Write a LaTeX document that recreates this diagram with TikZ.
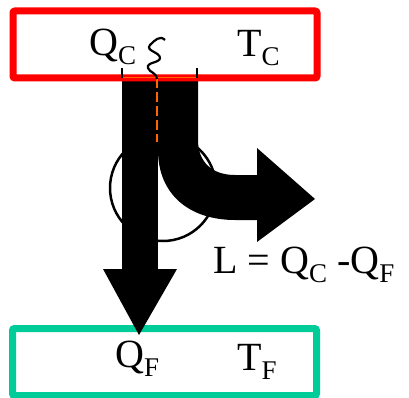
\documentclass[tikz,border=0pt]{standalone}
\usepackage{fontspec}
\setmainfont{Liberation Serif}
\definecolor{hotred}{RGB}{255,0,0}
\definecolor{coldgreen}{RGB}{0,204,153}
\definecolor{flow}{RGB}{255,102,0}
\newcommand{\lowidx}[1]{\raisebox{-9pt}{\fontsize{27}{27}\selectfont #1}}

\begin{document}
\begin{tikzpicture}[x=1pt,y=-1pt]
  \useasboundingbox (0,0) rectangle (409,398);
  \tikzset{reservoir/.style={draw, line width=7pt, rounded corners=2pt,
      minimum width=304pt, minimum height=67pt},
    label/.style={anchor=base west, inner sep=0pt, font=\fontsize{40}{44}\selectfont}}

  \draw[line width=2.5pt] (163,188) circle (53);
  \node[reservoir, draw=coldgreen] (cold) at (164.5,362) {};

  \coordinate (tipF) at (139,335);
  \coordinate (tipL) at (315,199);
  \fill (122,78) rectangle (158,270);
  \fill (103,269) -- (177,269) -- (tipF) -- cycle;
  \fill (158,78) -- (158,150) .. controls (158,195) and (190,220) .. (235,220)
    -- (258,220) -- (258,175) -- (235,175) .. controls (212,175) and (198,162) .. (198,140)
    -- (198,78) -- cycle;
  \fill (257,148) -- (tipL) -- (257,242) -- cycle;

  \node[reservoir, draw=hotred] (hot) at (165,44.5) {};
  \draw[flow, line width=1.5pt] (122,77.5) -- (197,77.5);
  \draw[line width=1.3pt] (122,68) -- (122,78) (197,68) -- (197,78);
  \draw[flow, line width=2pt, dash pattern=on 10pt off 4pt] (157,78) -- (157,142);
  \draw[line width=2.2pt] (165,40) .. controls (160,35) and (155,40) .. (150,45)
    .. controls (145,51) and (160,52) .. (160,58)
    .. controls (160,63) and (146,62) .. (148,68)
    .. controls (150,73) and (156,72) .. (157,79);

  \node[label] (qc) at (89,56) {Q\lowidx{C}};
  \node[label] (tc) at (237,57) {T\lowidx{C}};
  \node[label] (work) at (213,273) {L = Q\lowidx{C} -Q\lowidx{F}};
  \node[label] (qf) at (115,367) {Q\lowidx{F}};
  \node[label] (tf) at (237,370) {T\lowidx{F}};
\end{tikzpicture}
\end{document}
